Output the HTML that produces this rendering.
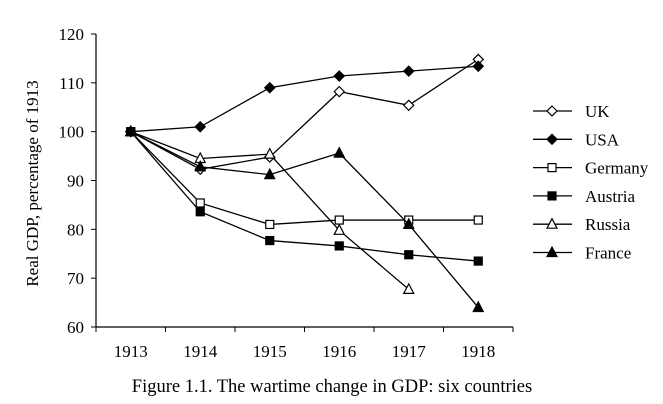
<!DOCTYPE html>
<html><head><meta charset="utf-8"><style>
body{margin:0;background:#fff}
svg{display:block;font-family:"Liberation Serif",serif}
</style></head><body>
<svg id="c" width="663" height="404" viewBox="0 0 663 404"></svg>
<script>
const categories=["1913","1914","1915","1916","1917","1918"];
const yTicks=[60,70,80,90,100,110,120];
const seriesNames=["UK","USA","Germany","Austria","Russia","France"];
const markers=["diamond-open","diamond","square-open","square","triangle-open","triangle"];
const uk=[100,92.3,94.8,108.2,105.4,114.8];
const usa=[100,101,109,111.4,112.4,113.4];
const germany=[100,85.4,81,81.9,81.9,81.9];
const austria=[100,83.6,77.7,76.6,74.8,73.5];
const russia=[100,94.5,95.4,79.8,67.7];
const france=[100,92.8,91.2,95.6,81,64];
const allSeries=[uk,usa,germany,austria,russia,france];

const svg=document.getElementById('c');
const NS='http://www.w3.org/2000/svg';
function mk(t,a,p){const e=document.createElementNS(NS,t);for(const k in a)e.setAttribute(k,a[k]);(p||svg).appendChild(e);return e;}
const x0=96,x1=513,yTop=34,yBot=327;
function xs(i){return x0+(x1-x0)/categories.length*(i+0.5);}
function ys(v){return yBot-(v-60)/60*(yBot-yTop);}

function marker(type,x,y,parent){
  let e;
  const fill=type.includes('open')?'#fff':'#000';
  if(type.startsWith('diamond')) e=mk('polygon',{points:`${x},${y-5} ${x+5},${y} ${x},${y+5} ${x-5},${y}`,fill,stroke:'#000','stroke-width':1.2},parent);
  else if(type.startsWith('square')) e=mk('rect',{x:x-4,y:y-4,width:8,height:8,fill,stroke:'#000','stroke-width':1.2},parent);
  else e=mk('polygon',{points:`${x},${y-5.5} ${x+5},${y+4} ${x-5},${y+4}`,fill,stroke:'#000','stroke-width':1.2},parent);
  return e;
}

const ax=mk('g',{});


mk('line',{x1:x0,y1:yTop,x2:x0,y2:yBot,stroke:'#000','stroke-width':1.2},ax);
mk('line',{x1:x0,y1:yBot,x2:x1,y2:yBot,stroke:'#000','stroke-width':1.2},ax);
yTicks.forEach(v=>{
  const y=ys(v);
  mk('line',{x1:x0-5,y1:y,x2:x0,y2:y,stroke:'#000'},ax);
  const t=mk('text',{x:x0-12,y:y+6,'text-anchor':'end','font-size':17},ax);
  t.textContent=v;
  
  
});
for(let i=0;i<=categories.length;i++){
  const x=x0+(x1-x0)/categories.length*i;
  mk('line',{x1:x,y1:yBot,x2:x,y2:yBot+5,stroke:'#000'},ax);
}
categories.forEach((c,i)=>{
  const t=mk('text',{x:xs(i),y:357,'text-anchor':'middle','font-size':17},ax);
  t.textContent=c;
  
  
});
const yt=mk('text',{x:0,y:0,'text-anchor':'middle','font-size':17,transform:`translate(38,${(yTop+yBot)/2+3}) rotate(-90)`});
yt.textContent='Real GDP, percentage of 1913';


const cap=mk('text',{x:332,y:392,'text-anchor':'middle','font-size':18.5});
cap.textContent='Figure 1.1. The wartime change in GDP: six countries';



allSeries.forEach((s,k)=>{
  const g=mk('g',{});
  
  
  mk('polyline',{points:s.map((v,i)=>xs(i)+','+ys(v)).join(' '),fill:'none',stroke:'#000','stroke-width':1.3},g);
  s.forEach((v,i)=>{
    const m=marker(markers[k],xs(i),ys(v),g);
    
    
  });
});

const lg=mk('g',{});


seriesNames.forEach((n,k)=>{
  const y=111+k*28.3;
  const e=mk('g',{},lg);
  
  
  mk('line',{x1:533,y1:y,x2:572,y2:y,stroke:'#000','stroke-width':1.3},e);
  marker(markers[k],552,y,e);
  const t=mk('text',{x:585,y:y+6,'font-size':17},e);
  t.textContent=n;
});
</script>
</body></html>
